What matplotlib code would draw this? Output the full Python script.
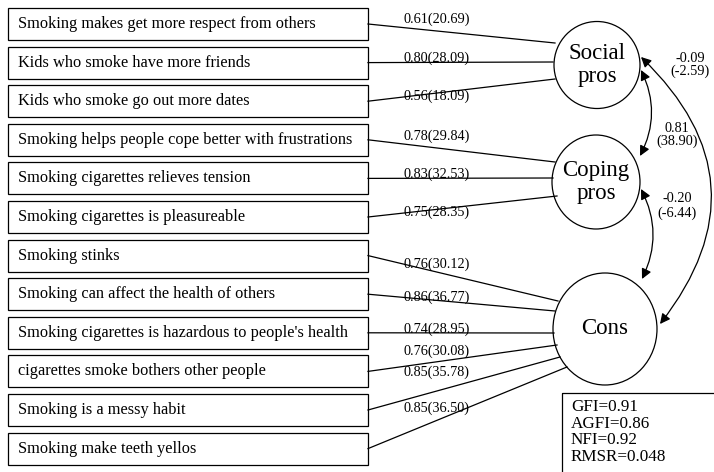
import matplotlib
matplotlib.use("Agg")
import matplotlib.pyplot as plt
from matplotlib.patches import Rectangle, Ellipse, FancyArrowPatch

plt.rcParams["font.family"] = ["Liberation Serif", "DejaVu Serif"]

# observed items, grouped by latent factor
items = [
    "Smoking makes get more respect from others",
    "Kids who smoke have more friends",
    "Kids who smoke go out more dates",
    "Smoking helps people cope better with frustrations",
    "Smoking cigarettes relieves tension",
    "Smoking cigarettes is pleasureable",
    "Smoking stinks",
    "Smoking can affect the health of others",
    "Smoking cigarettes is hazardous to people's health",
    "cigarettes smoke bothers other people",
    "Smoking is a messy habit",
    "Smoking make teeth yellos",
]
item_factor = [0, 0, 0, 1, 1, 1, 2, 2, 2, 2, 2, 2]
loadings = [0.61, 0.80, 0.56, 0.78, 0.83, 0.75, 0.76, 0.86, 0.74, 0.76, 0.85, 0.85]
t_values = [20.69, 28.09, 18.09, 29.84, 32.53, 28.35, 30.12, 36.77, 28.95, 30.08, 35.78, 36.50]

factors = ["Social\npros", "Coping\npros", "Cons"]
# factor correlations: (from, to, r, t)
correlations = [(0, 1, 0.81, 38.90), (1, 2, -0.20, -6.44), (0, 2, -0.09, -2.59)]
fit_names = ["GFI", "AGFI", "NFI", "RMSR"]
fit_values = ["0.91", "0.86", "0.92", "0.048"]

W, H = 714, 472
fig = plt.figure(figsize=(W / 100, H / 100), dpi=100)
ax = fig.add_axes([0, 0, 1, 1])
ax.set_xlim(0, W)
ax.set_ylim(H, 0)
ax.axis("off")

lw = 0.9
box_x0, box_x1 = 8, 368
box_top0, pitch, box_h = 8, 38.6, 32

# latent circles: center x, center y, width, height
circ = [(597, 65, 86, 87), (596, 182, 88, 94), (605, 329, 104, 112)]
for (cx, cy, w, h), name in zip(circ, factors):
    ax.add_patch(Ellipse((cx, cy), w, h, fill=False, lw=lw, color="black"))
    ax.text(cx, cy, name, ha="center", va="center", fontsize=16.5,
            linespacing=1.1)

# end points of each loading line on the circle rims
ends = [(555, 43), (553, 62), (555, 79),
        (555, 162), (553, 178), (557, 196),
        (558, 301), (555, 311), (554, 333), (557, 345), (560, 357), (567, 367)]
label_y = [19, 58, 96, 136, 174, 212, 264, 297, 329, 351, 372, 408]

for i, txt in enumerate(items):
    y0 = box_top0 + i * pitch
    ax.add_patch(Rectangle((box_x0, y0), box_x1 - box_x0, box_h,
                           fill=False, lw=lw, color="black"))
    ax.text(box_x0 + 10, y0 + box_h / 2, txt, ha="left", va="center",
            fontsize=11.8)
    ym = y0 + box_h / 2
    ex, ey = ends[i]
    ax.plot([box_x1, ex], [ym, ey], color="black", lw=lw)
    ax.text(404, label_y[i], f"{loadings[i]:.2f}({t_values[i]:.2f})",
            ha="left", va="center", fontsize=10.3)

# curved double-headed arrows between factors
arcs = {
    (0, 1): ((641, 70), (640, 156), 0.25, (677, 135)),
    (1, 2): ((641, 189), (642, 279), 0.25, (677, 206)),
    (0, 2): ((641, 57), (660, 324), 0.45, (690, 65)),
}
for a, b, r, t in correlations:
    p0, p1, rad, lab = arcs[(a, b)]
    ax.add_patch(FancyArrowPatch(p0, p1, connectionstyle=f"arc3,rad={-rad}",
                                 arrowstyle="<|-|>,head_length=6,head_width=3",
                                 color="black", lw=lw, shrinkA=0, shrinkB=0))
    ax.text(lab[0], lab[1], f"{r:.2f}\n({t:.2f})", ha="center", va="center",
            fontsize=10.3, linespacing=1.05)

# model fit summary
ax.add_patch(Rectangle((562, 393), 160, 90, fill=False, lw=lw, color="black"))
fit_txt = "\n".join(f"{n}={v}" for n, v in zip(fit_names, fit_values))
ax.text(571, 432, fit_txt, ha="left", va="center", fontsize=12.3,
        linespacing=1.05)

fig.savefig("out.png", dpi=100)
